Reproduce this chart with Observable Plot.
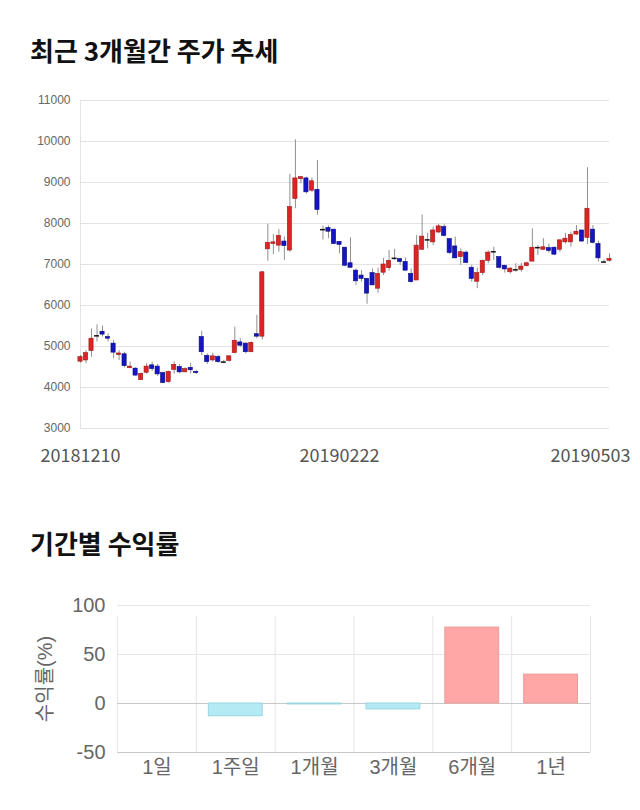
<!DOCTYPE html>
<html><head><meta charset="utf-8">
<script src="https://cdn.jsdelivr.net/npm/d3@7"></script>
<script src="https://cdn.jsdelivr.net/npm/@observablehq/plot@0.6"></script>
<style>
html,body{margin:0;padding:0;background:#fff;}
body{width:640px;height:810px;position:relative;overflow:hidden;font-family:"Noto Sans CJK KR",sans-serif;}
.title{position:absolute;left:30px;font-weight:bold;font-size:26px;line-height:30px;color:#111;}
#t1{top:35px;} #t2{top:528px;}
#c1{position:absolute;left:0;top:85px;}
#c2{position:absolute;left:0;top:580px;}
</style></head><body>
<div class="title" id="t1">최근 3개월간 주가 추세</div>
<div id="c1"></div>
<div class="title" id="t2">기간별 수익률</div>
<div id="c2"></div>
<script>
// ---- candlestick data (daily, 20181210 .. 20190503) ----
const openP  = [4630,4660,4890,5260,5360,5230,5070,4790,4810,4470,4460,4180,4360,4540,4510,4350,4130,4430,4500,4370,4480,4380,5230,4770,4660,4740,4620,4650,4840,5100,5070,4860,5300,5240,7370,7500,7460,7560,7340,8600,9080,9100,8800,8820,7850,7890,7850,7550,7410,7030,6850,6730,6650,6790,6410,6800,6910,7150,7130,7060,6770,6610,7360,7600,7540,7780,7910,7620,7440,7180,7290,6920,6580,6790,7090,7310,7180,6970,6810,6870,6870,6960,7070,7410,7360,7400,7410,7360,7540,7540,7730,7830,7650,7850,7500,7060,7090];
const highP  = [4780,4900,5430,5530,5500,5310,5150,4900,4860,4620,4480,4350,4580,4620,4560,4370,4400,4630,4560,4480,4590,4420,5370,4820,4840,4780,4660,4780,5470,5190,5090,5110,5760,6830,7980,7730,7850,7670,9200,10040,9150,9130,9110,9540,7940,7940,7850,7550,7410,7650,6890,6850,6650,6890,6910,7150,7340,7370,7150,7160,6890,7710,8210,7760,7910,7980,7980,7620,7670,7380,7330,6980,6910,7110,7330,7420,7180,6970,6920,7020,7030,7060,7870,7460,7630,7500,7420,7600,7760,7790,7950,7830,9360,7950,7570,7110,7260];
const lowP   = [4590,4580,4740,5110,5230,5110,4700,4660,4480,4460,4280,4170,4330,4390,4270,4090,4110,4330,4330,4360,4330,4320,4780,4560,4620,4590,4580,4620,4820,4980,4820,4850,5190,5160,7080,7240,7300,7100,7300,8360,8970,8720,8760,8200,7600,7630,7490,7260,6940,6920,6490,6570,6030,6490,6300,6730,6840,7100,6980,6840,6550,6610,7340,7380,7460,7750,7670,7240,7140,6980,7020,6570,6410,6730,7020,7100,6890,6790,6770,6810,6810,6940,7070,7220,7340,7280,7220,7300,7500,7420,7710,7540,7490,7500,7060,7030,7060];
const closeP = [4740,4840,5190,5260,5290,5190,4850,4830,4520,4510,4290,4330,4510,4450,4320,4110,4380,4550,4370,4450,4420,4350,4860,4620,4760,4620,4620,4760,5140,5020,4860,5090,5240,6810,7530,7540,7700,7450,8400,9100,9130,8760,9030,8330,7850,7800,7500,7480,6970,6920,6590,6650,6290,6490,6770,7000,7090,7150,7060,6850,6570,7460,7680,7600,7830,7930,7700,7280,7150,7300,7040,6650,6790,7090,7290,7310,6920,6880,6900,6870,6950,7030,7410,7410,7420,7330,7240,7590,7630,7720,7800,7560,8360,7530,7150,7060,7140];
const priceTicks = [3000,4000,5000,6000,7000,8000,9000,10000,11000];
const dateLabels = ["20181210","20190222","20190503"];
const dateLabelIdx = [0,47,96];

// ---- period returns ----
const periods = ["1일","1주일","1개월","3개월","6개월","1년"];
const returns = [0,-13,-1,-6,77.5,29.5];
const returnTicks = [-50,0,50,100];

const candles = openP.map((o,i)=>({i, o, h: highP[i], l: lowP[i], c: closeP[i]}));
const n = candles.length;
const upC = candles.filter(d=>d.c>d.o), dnC = candles.filter(d=>d.c<d.o), flat = candles.filter(d=>d.c===d.o);
const dl = dateLabels.map((t,k)=>({t, i: dateLabelIdx[k]}));

const chart1 = Plot.plot({
  width: 640, height: 395,
  marginLeft: 80, marginRight: 31, marginTop: 15, marginBottom: 52,
  x: {type: "linear", domain: [0, n-1], axis: null},
  y: {domain: [3000, 11000], axis: null},
  style: {fontFamily: "'Liberation Sans', 'Noto Sans CJK KR', sans-serif", background: "white", overflow: "visible"},
  marks: [
    Plot.gridY(priceTicks, {stroke: "#e3e3e3", strokeOpacity: 1}),
    Plot.ruleX([0], {stroke: "#e3e3e3"}),
    Plot.axisY({ticks: priceTicks, tickSize: 0, tickPadding: 10, fontSize: 12, fill: "#666", label: null, tickFormat: d => String(d)}),
    Plot.ruleX(candles, {x: "i", y1: "l", y2: "h", stroke: "#8f8f8f", strokeWidth: 1}),
    Plot.rect(upC, {x1: d=>d.i-0.38, x2: d=>d.i+0.38, y1: "o", y2: "c", fill: "#dd2424", stroke: "#9e1717", strokeWidth: 0.6}),
    Plot.rect(dnC, {x1: d=>d.i-0.38, x2: d=>d.i+0.38, y1: "o", y2: "c", fill: "#1515c2", stroke: "#06067e", strokeWidth: 0.6}),
    Plot.ruleY(flat, {y: "o", x1: d=>d.i-0.45, x2: d=>d.i+0.45, stroke: "#111", strokeWidth: 1.5}),
    Plot.text(dl.slice(0,2), {x: "i", text: "t", frameAnchor: "bottom", dy: 33, fontSize: 18, fill: "#555", fontFamily: "'Noto Sans CJK KR', sans-serif"}),
    Plot.text(dl.slice(2), {x: "i", text: "t", frameAnchor: "bottom", dy: 33, dx: 21, textAnchor: "end", fontSize: 18, fill: "#555", fontFamily: "'Noto Sans CJK KR', sans-serif"})
  ]
});
document.getElementById("c1").appendChild(chart1);

const rdata = periods.map((p,i)=>({p, i, v: returns[i]}));
const chart2 = Plot.plot({
  width: 640, height: 220,
  marginLeft: 117, marginRight: 50, marginTop: 25, marginBottom: 48,
  x: {type: "linear", domain: [0, periods.length], axis: null},
  y: {domain: [-50, 100], axis: null},
  style: {fontFamily: "'Liberation Sans', 'Noto Sans CJK KR', sans-serif", background: "white", overflow: "visible"},
  marks: [
    Plot.gridY([50, 100], {stroke: "#e6e6e6", strokeOpacity: 1}),
    Plot.ruleX(d3.range(periods.length+1), {x: d=>d, y1: -50, y2: 100, stroke: "#e6e6e6", insetBottom: -11}),
    Plot.ruleY([0, -50], {stroke: "#c8c8c8"}),
    Plot.rectY(rdata.filter(d=>d.v>0), {x1: "i", x2: d=>d.i+1, y1: 0, y2: "v", insetLeft: 12.5, insetRight: 12.5, fill: "#ffa6a6", stroke: "#eb9b9b", strokeWidth: 1}),
    Plot.rectY(rdata.filter(d=>d.v<0), {x1: "i", x2: d=>d.i+1, y1: 0, y2: "v", insetLeft: 12.5, insetRight: 12.5, fill: "#b3eaf3", stroke: "#98d6e0", strokeWidth: 1}),
    Plot.axisY({ticks: returnTicks, tickSize: 0, tickPadding: 12, fontSize: 20, fill: "#666", label: "수익률(%)", labelAnchor: "center", labelOffset: 80, labelArrow: "none", tickFormat: d => String(d)}),
    Plot.text(rdata, {x: d=>d.i+0.5, text: "p", frameAnchor: "bottom", dy: 21, fontSize: 20, fill: "#666"})
  ]
});
document.getElementById("c2").appendChild(chart2);
</script>
</body></html>
